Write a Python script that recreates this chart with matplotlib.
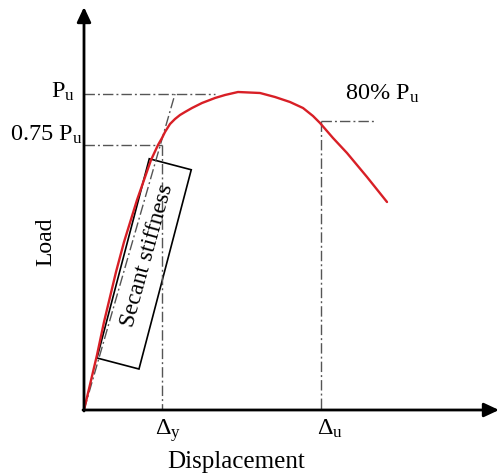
import matplotlib
matplotlib.use("Agg")
import matplotlib.pyplot as plt
from matplotlib.patches import Rectangle

plt.rcParams["font.family"] = ["Liberation Serif", "DejaVu Serif"]
plt.rcParams["mathtext.fontset"] = "custom"
plt.rcParams["mathtext.rm"] = "Liberation Serif"
plt.rcParams["mathtext.it"] = "Liberation Serif:italic"

# Load-displacement curve (schematic units)
displacement = [0, 13, 20, 32, 40, 53, 67, 74, 78, 81, 86, 91, 96, 101, 108,
                118, 131, 141, 154, 176, 191, 206, 219, 229, 236, 249, 263,
                283, 303]
load = [0, 55, 88, 138, 168, 210, 250, 265, 272, 278, 286, 291, 295, 298,
        302, 307, 312, 315, 318, 317, 313, 308, 302, 294, 287, 272, 257,
        233, 208]

# Characteristic levels and displacements
peak_load = 316          # P_u
load_075 = 265           # 0.75 P_u
load_080 = 289           # 80% P_u
delta_y = 78             # yield displacement
delta_u = 237            # ultimate displacement
secant_top = (91, 316)   # secant line end point at the P_u level

level_labels = [r"P$_\mathrm{u}$", r"0.75 P$_\mathrm{u}$", r"80% P$_\mathrm{u}$"]
delta_labels = [r"Δ$_\mathrm{y}$", r"Δ$_\mathrm{u}$"]

fig = plt.figure(figsize=(4.99, 4.75), dpi=100)
ax = fig.add_axes([0, 0, 1, 1])
ax.set_xlim(-84, 415)
ax.set_ylim(-65, 410)
ax.axis("off")

dash = dict(color="#555555", lw=1.0, linestyle=(0, (7.5, 2.2, 1.4, 2.2)))

# reference lines
ax.plot([0, 131], [peak_load, peak_load], **dash)
ax.plot([0, delta_y], [load_075, load_075], **dash)
ax.plot([delta_y, delta_y], [load_075, 0], **dash)
ax.plot([delta_u, delta_u], [load_080, 0], **dash)
ax.plot([delta_u, 290], [load_080, load_080], **dash)
ax.plot([0, secant_top[0]], [0, secant_top[1]], **dash)

# curve
ax.plot(displacement, load, color="#d81f26", lw=1.7,
        solid_capstyle="round", solid_joinstyle="round")

# axes with arrows
arrow = dict(arrowstyle="-|>,head_length=0.9,head_width=0.42", color="black",
             lw=2, shrinkA=0, shrinkB=0)
ax.annotate("", xy=(0, 403), xytext=(0, -1), arrowprops=arrow)
ax.annotate("", xy=(415, 0), xytext=(-1, 0), arrowprops=arrow)

# secant stiffness box
ax.add_patch(Rectangle((13, 52), 43.4, 206, angle=-14.7, fill=False,
                       edgecolor="black", lw=1.2))
ax.text(63, 154, "Secant stiffness", rotation=74.5, ha="center", va="center",
        fontsize=17, rotation_mode="anchor")

# labels
fs = 17.5
ax.text(-9, 312, level_labels[0], ha="right", va="baseline", fontsize=fs)
ax.text(-2, 269, level_labels[1], ha="right", va="baseline", fontsize=fs)
ax.text(261, 310, level_labels[2], ha="left", va="baseline", fontsize=fs)
ax.text(71, -25, delta_labels[0], ha="left", va="baseline", fontsize=fs)
ax.text(233, -25, delta_labels[1], ha="left", va="baseline", fontsize=fs)
ax.text(152, -58, "Displacement", ha="center", va="baseline", fontsize=18)
ax.text(-38, 168, "Load", ha="center", va="center", rotation=90, fontsize=17)

fig.savefig("out.png", dpi=100)
